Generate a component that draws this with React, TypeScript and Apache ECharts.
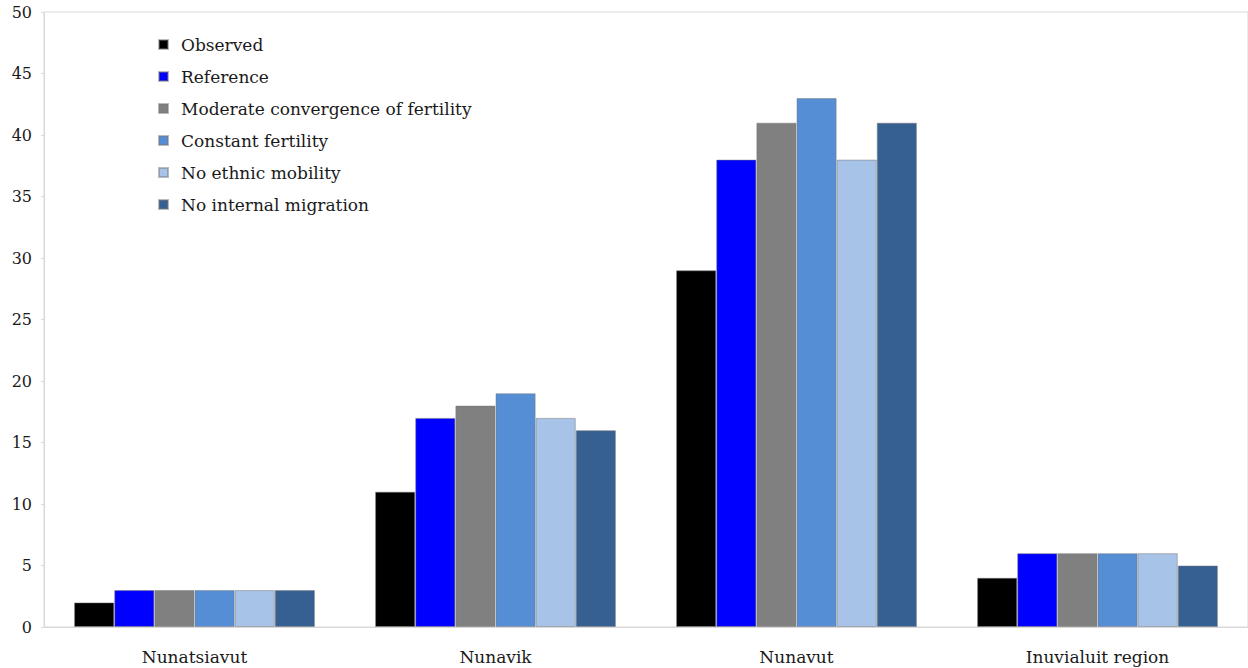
import React, { useEffect, useRef } from "react";
import * as echarts from "echarts";

const categories = ["Nunatsiavut", "Nunavik", "Nunavut", "Inuvialuit region"];
const seriesNames = [
  "Observed",
  "Reference",
  "Moderate convergence of fertility",
  "Constant fertility",
  "No ethnic mobility",
  "No internal migration",
];
const observed = [2, 11, 29, 4];
const reference = [3, 17, 38, 6];
const moderate = [3, 18, 41, 6];
const constant = [3, 19, 43, 6];
const noEthnic = [3, 17, 38, 6];
const noMigration = [3, 16, 41, 5];
const colors = ["#000000", "#0000ff", "#808080", "#558ed5", "#a7c4e8", "#366092"];

export default function App() {
  const ref = useRef<HTMLDivElement>(null);
  useEffect(() => {
    document.body.style.margin = "0";
    const chart = echarts.init(ref.current!, null, { renderer: "svg" });
    const data = [observed, reference, moderate, constant, noEthnic, noMigration];
    const font = "DejaVu Serif";
    chart.setOption({
      animation: false,
      backgroundColor: "#ffffff",
      grid: {
        left: 44,
        right: 0,
        top: 12,
        bottom: 41,
        show: true,
        borderColor: "#d9d9d9",
        borderWidth: 1,
      },
      legend: {
        orient: "vertical",
        left: 158,
        top: 36,
        padding: 0,
        itemWidth: 9,
        itemHeight: 9,
        itemGap: 15,
        icon: "rect",
        data: seriesNames,
        textStyle: {
          fontFamily: font,
          fontSize: 17,
          color: "#1a1a1a",
          padding: [0, 0, 0, 8],
        },
      },
      xAxis: {
        type: "category",
        data: categories,
        axisLine: { lineStyle: { color: "#d9d9d9", width: 1 } },
        axisTick: { show: false },
        axisLabel: {
          fontFamily: font,
          fontSize: 17,
          color: "#1a1a1a",
          margin: 21,
        },
      },
      yAxis: {
        type: "value",
        min: 0,
        max: 50,
        interval: 5,
        axisLine: { show: true, lineStyle: { color: "#d9d9d9", width: 1 } },
        axisTick: { show: true, length: 3, lineStyle: { color: "#d9d9d9" } },
        splitLine: { show: false },
        axisLabel: {
          fontFamily: font,
          fontSize: 16,
          color: "#1a1a1a",
          margin: 12,
        },
      },
      series: seriesNames.map((name, i) => ({
        name,
        type: "bar",
        data: data[i],
        barGap: "0%",
        barCategoryGap: "20%",
        itemStyle: { color: colors[i], borderColor: "rgba(120,120,120,0.5)", borderWidth: 1 },
      })),
    });
    return () => chart.dispose();
  }, []);
  return <div ref={ref} style={{ width: 1248, height: 668 }} />;
}
